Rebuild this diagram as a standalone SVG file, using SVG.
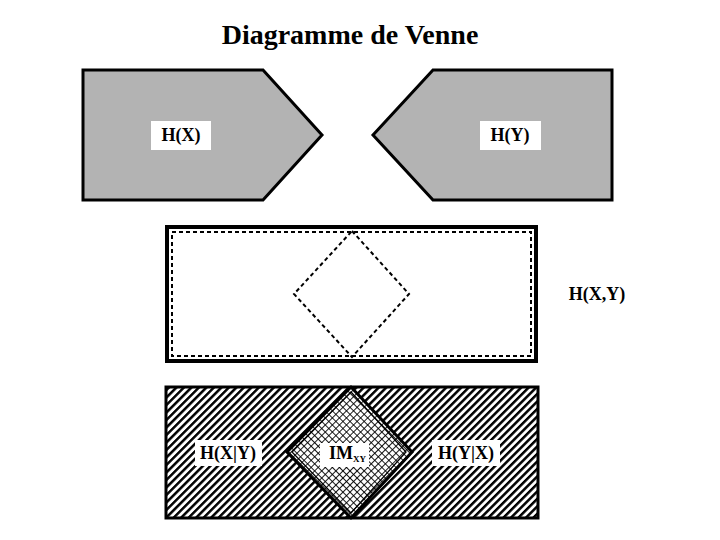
<svg xmlns="http://www.w3.org/2000/svg" width="720" height="540" viewBox="0 0 720 540">
<style>
.t{font-family:"Liberation Serif","Times New Roman",serif;font-weight:bold;fill:#000}
.lbl{font-size:18px;text-anchor:middle}
.box{fill:#fff;stroke:none}
.pent{fill:#b3b3b3;stroke:#000;stroke-width:3;stroke-linejoin:miter}
.dash{fill:none;stroke:#000;stroke-width:2;stroke-dasharray:4 3}
.hpent{fill:url(#hatch);stroke:none}
.hline{fill:none;stroke:#000;stroke-width:3;stroke-linejoin:miter}
</style>
<defs>
<pattern id="hatch" patternUnits="userSpaceOnUse" width="5.3" height="5.3" patternTransform="rotate(45)">
<rect x="0" y="0" width="5.3" height="5.3" fill="#fff"/>
<rect x="0" y="0" width="2.5" height="5.3" fill="#000"/>
</pattern>
<pattern id="cross" patternUnits="userSpaceOnUse" width="5" height="5" patternTransform="rotate(45)">
<rect x="0" y="0" width="5" height="5" fill="#fff"/>
<path d="M0,0.5 H5 M0.5,0 V5" stroke="#000" stroke-width="0.9" fill="none"/>
</pattern>
</defs>
<rect width="720" height="540" fill="#fff"/>
<text id="title" class="t" x="350" y="44" font-size="28" text-anchor="middle">Diagramme de Venne</text>

<g id="HX">
<polygon class="pent" points="83,70 263,70 322,135 263,200 83,200"/>
<rect class="box" x="151" y="121" width="60" height="29"/>
<text class="t lbl" x="181" y="141">H(X)</text>
</g>
<g id="HY">
<polygon class="pent" points="373,135 433,70 612,70 612,200 433,200"/>
<rect class="box" x="480" y="121" width="61" height="29"/>
<text class="t lbl" x="510" y="141">H(Y)</text>
</g>

<g id="HXY">
<rect x="167" y="227" width="369" height="134" fill="#fff" stroke="#000" stroke-width="4"/>
<rect class="dash" x="172" y="232" width="359" height="124"/>
<polygon class="dash" points="352,231 409,294 352,357 294,294"/>
<text class="t lbl" x="597" y="300">H(X,Y)</text>
</g>

<g id="bottom">
<polygon class="hpent" points="166,387 351,387 412,452 351,518 166,518"/>
<polygon class="hpent" points="287,452 351,387 538,387 538,518 351,518"/>
<polygon points="351,387 412,452 351,518 287,452" fill="url(#cross)"/>
<polygon class="hline" points="166,387 351,387 412,452 351,518 166,518"/>
<polygon class="hline" points="287,452 351,387 538,387 538,518 351,518"/>
<polygon points="351,392 406,452 351,513 292,452" fill="none" stroke="#000" stroke-width="1.3"/>
</g>
<g id="HXgY">
<rect class="box" x="195" y="440" width="67" height="26"/>
<text class="t lbl" x="228" y="459">H(X|Y)</text>
</g>
<g id="IMXY">
<rect class="box" x="320" y="443" width="49" height="24"/>
<text class="t" x="329" y="459" font-size="18">IM<tspan font-size="9" dy="3">XY</tspan></text>
</g>
<g id="HYgX">
<rect class="box" x="432" y="440" width="68" height="26"/>
<text class="t lbl" x="466" y="459">H(Y|X)</text>
</g>
<g id="connectors"/>
</svg>
